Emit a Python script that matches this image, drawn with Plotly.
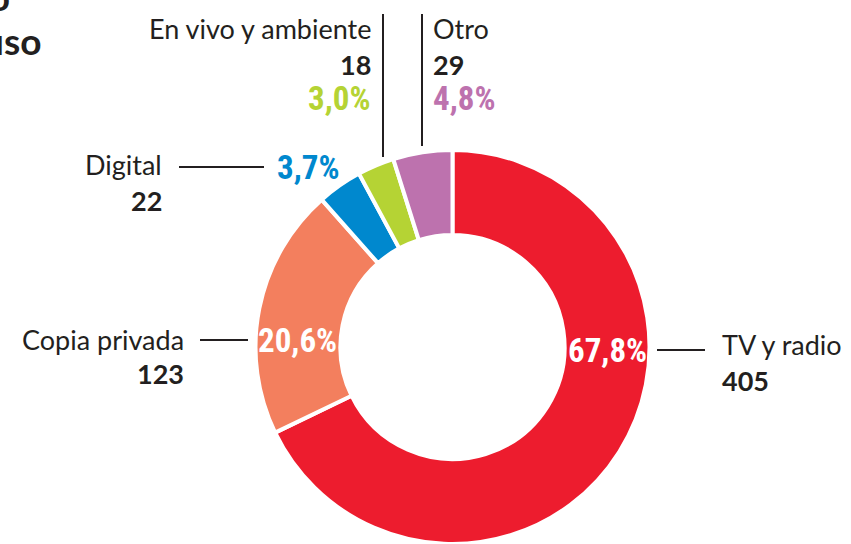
import plotly.graph_objects as go

W, H = 851, 544

categories = ["TV y radio", "Copia privada", "Digital", "En vivo y ambiente", "Otro"]
values = [405, 123, 22, 18, 29]
pct_labels = ["67,8%", "20,6%", "3,7%", "3,0%", "4,8%"]
colors = ["#ED1C2E", "#F37F5E", "#0088CE", "#B5D334", "#BD72AE"]

TXT = "#231F20"
LABEL_FONT = "Lato"
PCT_FONT = "Roboto Condensed"


def px(x):
    return x / W


def py(y):
    return 1 - y / H


fig = go.Figure()
R = 197
cx, cy = 452.5, 347
fig.add_trace(go.Pie(
    labels=categories, values=values, sort=False, direction="clockwise", rotation=0,
    hole=0.569, textinfo="none", hoverinfo="label+value",
    marker=dict(colors=colors, line=dict(color="white", width=4)),
    domain=dict(x=[px(cx - R), px(cx + R)], y=[max(0, py(cy + R)), py(cy - R)]),
    showlegend=False,
))

layout_cfg = {
    "TV y radio": dict(nx=720, ny=344, na="left", vy=380, qx=566, qy=350, qa="left", qc="white"),
    "Copia privada": dict(nx=186, ny=339, na="right", vy=373, qx=256, qy=340, qa="left", qc="white"),
    "Digital": dict(nx=164, ny=165, na="right", vy=200, qx=275, qy=167, qa="left", qc=None),
    "En vivo y ambiente": dict(nx=373, ny=28, na="right", vy=64, qx=373, qy=98, qa="right", qc=None),
    "Otro": dict(nx=431, ny=28, na="left", vy=64, qx=431, qy=98, qa="left", qc=None),
}

anns = []
for cat, val, pct, col in zip(categories, values, pct_labels, colors):
    c = layout_cfg[cat]
    anns.append(dict(x=px(c["nx"]), y=py(c["ny"]), text=cat, xanchor=c["na"], yanchor="middle",
                     font=dict(family=LABEL_FONT, size=27, color=TXT)))
    anns.append(dict(x=px(c["nx"]), y=py(c["vy"]), text=f"<b>{val}</b>", xanchor=c["na"], yanchor="middle",
                     font=dict(family=LABEL_FONT, size=27, color=TXT)))
    anns.append(dict(x=px(c["qx"]), y=py(c["qy"]), text=f"<b>{pct}</b>", xanchor=c["qa"], yanchor="middle",
                     font=dict(family=PCT_FONT, size=33, color=c["qc"] or col)))

# cropped title fragments top-left
anns.append(dict(x=px(44), y=py(41), text="<b>por tipo de uso</b>", xanchor="right", yanchor="middle",
                 font=dict(family=LABEL_FONT, size=37, color=TXT)))
anns.append(dict(x=px(12), y=py(-3), text="<b>Recaudo</b>", xanchor="right", yanchor="middle",
                 font=dict(family=LABEL_FONT, size=37, color=TXT)))

for a in anns:
    a.update(xref="paper", yref="paper", showarrow=False)

lines = [
    (383, 14, 383, 157),
    (422, 14, 422, 146),
    (179, 167, 264, 167),
    (200, 340, 248, 340),
    (657, 350, 705, 350),
]
shapes = [dict(type="line", xref="paper", yref="paper", x0=px(a), y0=py(b), x1=px(c), y1=py(d),
               line=dict(color=TXT, width=2)) for a, b, c, d in lines]

fig.update_layout(width=W, height=H, margin=dict(l=0, r=0, t=0, b=0),
                  paper_bgcolor="white", plot_bgcolor="white",
                  annotations=anns, shapes=shapes)

fig.write_html("out.html", config={"displayModeBar": False},
               post_script="document.body.style.margin='0';document.body.style.overflow='hidden';")
